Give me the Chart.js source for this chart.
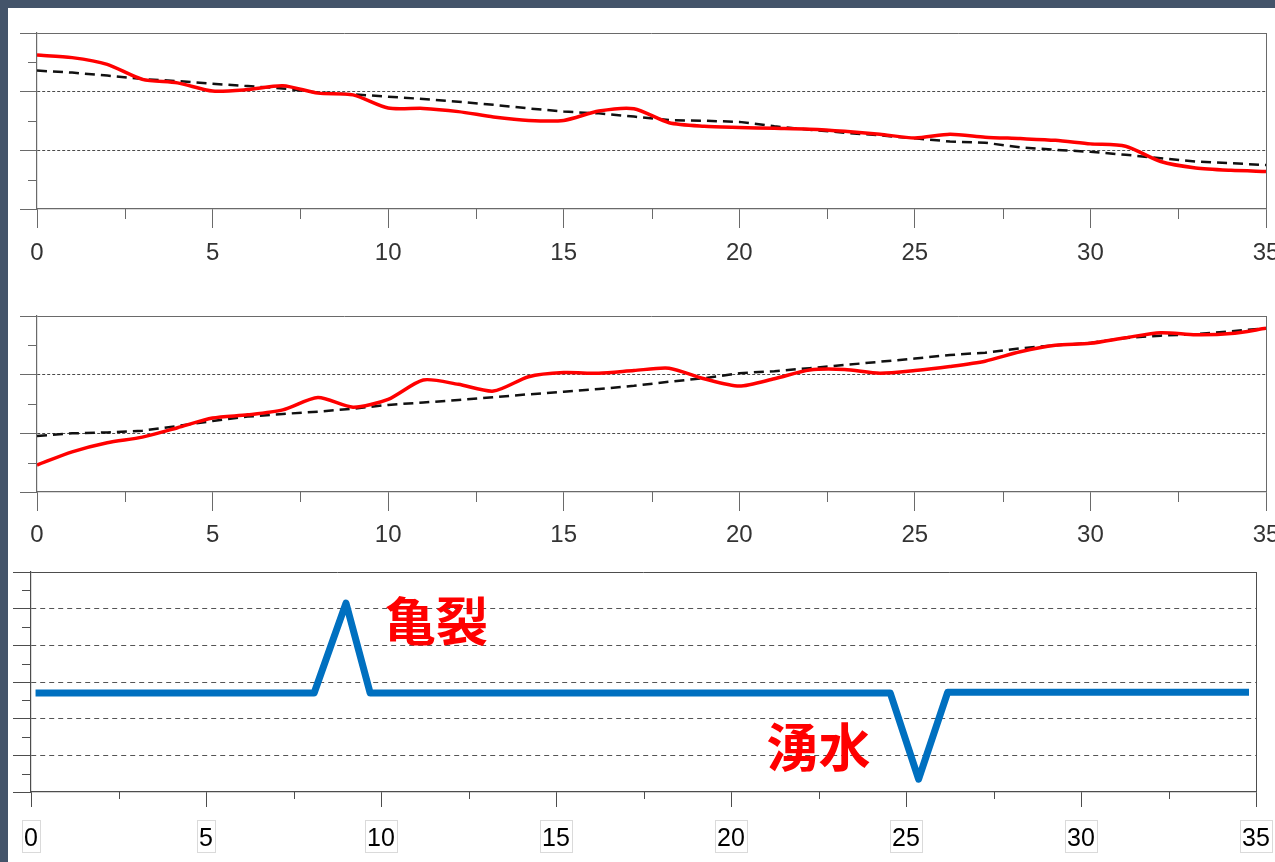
<!DOCTYPE html>
<html>
<head>
<meta charset="utf-8">
<script src="https://cdn.jsdelivr.net/npm/chart.js@4.4.1/dist/chart.umd.min.js"></script>
<style>
  html, body { margin: 0; padding: 0; background: #ffffff; overflow: hidden; width: 1275px; height: 862px; }
  canvas { position: absolute; left: 0; }
  #c1 { top: 0; }
  #c2 { top: 280px; }
  #c3 { top: 560px; }
  .frame { position: absolute; background: #44546a; z-index: 5; }
  #frameTop { left: 0; top: 0; width: 1275px; height: 8px; }
  #frameLeft { left: 0; top: 0; width: 8px; height: 862px; }
</style>
</head>
<body>
<canvas id="c1" width="1320" height="280"></canvas>
<canvas id="c2" width="1320" height="280"></canvas>
<canvas id="c3" width="1320" height="302"></canvas>
<div class="frame" id="frameTop"></div>
<div class="frame" id="frameLeft"></div>
<script>
// Chainage (m) along the section
const distance = [0,1,2,3,4,5,6,7,8,9,10,11,12,13,14,15,16,17,18,19,20,21,22,23,24,25,26,27,28,29,30,31,32,33,34,35];

// Upper profile: measured values and trend
const measuredA = [5.25,5.16,4.93,4.42,4.30,4.02,4.07,4.20,3.95,3.89,3.44,3.43,3.32,3.14,3.02,3.02,3.34,3.42,2.94,2.82,2.78,2.75,2.72,2.65,2.55,2.42,2.55,2.45,2.40,2.34,2.22,2.14,1.62,1.40,1.32,1.28];
const trendA    = [4.72,4.65,4.55,4.43,4.36,4.27,4.19,4.11,3.97,3.91,3.83,3.75,3.66,3.55,3.43,3.32,3.26,3.15,3.03,3.01,2.97,2.82,2.70,2.60,2.51,2.41,2.30,2.26,2.10,2.02,1.95,1.85,1.73,1.62,1.56,1.50];

// Middle profile: measured values and trend
const measuredB = [0.92,1.37,1.68,1.87,2.19,2.52,2.63,2.80,3.22,2.89,3.16,3.82,3.67,3.44,3.93,4.07,4.05,4.14,4.22,3.86,3.61,3.86,4.16,4.18,4.05,4.14,4.28,4.46,4.78,5.00,5.07,5.26,5.43,5.36,5.40,5.58];
const trendB    = [1.91,2.00,2.03,2.09,2.25,2.42,2.57,2.66,2.74,2.84,2.97,3.05,3.14,3.23,3.33,3.42,3.51,3.62,3.76,3.88,4.05,4.12,4.22,4.33,4.44,4.55,4.67,4.75,4.90,5.00,5.08,5.25,5.33,5.38,5.48,5.58];

// Lower log: anomaly trace
const traceX = [0.13, 8.09, 9.0, 9.69, 24.55, 25.36, 26.19, 34.8];
const traceY = [2.70, 2.70, 5.15, 2.70, 2.70, 0.35, 2.72, 2.72];

// Event notes on the lower log
const noteText = ['亀裂', '湧水'];
const noteX = [11.57, 22.5];
const noteY = [4.67, 1.23];

// Axis tick positions
const xMajor = [0, 5, 10, 15, 20, 25, 30, 35];
const xMinor = [2.5, 7.5, 12.5, 17.5, 22.5, 27.5, 32.5];
const yMinorProfile = [1, 3, 5];
const yMinorLog = [0.5, 1.5, 2.5, 3.5, 4.5, 5.5];

const pts = (xs, ys) => xs.map((x, i) => ({ x: x, y: ys[i] }));

// Short secondary tick marks on both axes
const minorTicks = {
  id: 'minorTicks',
  afterDraw(chart, args, opts) {
    const { ctx } = chart;
    const xs = chart.scales.x, ys = chart.scales.y;
    ctx.save();
    ctx.strokeStyle = opts.color;
    ctx.lineWidth = 1;
    ctx.beginPath();
    for (const v of opts.x) {
      const px = Math.round(xs.getPixelForValue(v)) + 0.5;
      ctx.moveTo(px, xs.top);
      ctx.lineTo(px, xs.top + opts.xLen);
    }
    for (const v of opts.y) {
      const py = Math.round(ys.getPixelForValue(v)) + 0.5;
      ctx.moveTo(ys.right - opts.yLen, py);
      ctx.lineTo(ys.right, py);
    }
    ctx.stroke();
    ctx.restore();
  }
};

// Thin frames round the x tick labels
const labelFrames = {
  id: 'labelFrames',
  afterDraw(chart, args, opts) {
    if (!opts.enabled) return;
    const { ctx } = chart;
    const xs = chart.scales.x;
    ctx.save();
    ctx.font = opts.font;
    ctx.strokeStyle = opts.color;
    ctx.lineWidth = 1;
    for (const t of xs.ticks) {
      const label = String(t.label);
      const w = ctx.measureText(label).width + opts.padX * 2;
      const cx = xs.getPixelForValue(t.value);
      ctx.strokeRect(Math.round(cx - w / 2) + 0.5, opts.top + 0.5, Math.round(w), opts.height);
    }
    ctx.restore();
  }
};

// Text notes placed in data coordinates
const notes = {
  id: 'notes',
  afterDatasetsDraw(chart, args, opts) {
    if (!opts.text) return;
    const { ctx } = chart;
    const xs = chart.scales.x, ys = chart.scales.y;
    ctx.save();
    ctx.font = opts.font;
    ctx.fillStyle = opts.color;
    ctx.textAlign = 'center';
    ctx.textBaseline = 'middle';
    opts.text.forEach((s, i) => {
      ctx.fillText(s, xs.getPixelForValue(opts.x[i]), ys.getPixelForValue(opts.y[i]));
    });
    ctx.restore();
  }
};

function profileChart(id, measured, trend, top, bottom, canvasH, labelPad) {
  const axisCol = '#6a6a6a';
  const gridCol = '#4a4a4a';
  return new Chart(document.getElementById(id), {
    type: 'line',
    data: {
      datasets: [
        { data: pts(distance, measured), borderColor: '#ff0000', borderWidth: 3.5, pointRadius: 0, tension: 0.25, order: 1 },
        { data: pts(distance, trend), borderColor: '#111111', borderWidth: 2.5, borderDash: [10, 6], pointRadius: 0, tension: 0, order: 2 }
      ]
    },
    options: {
      responsive: false,
      animation: false,
      events: [],
      layout: { padding: { left: 0, top: top, right: 1320 - 1266, bottom: 0 } },
      plugins: {
        legend: { display: false },
        tooltip: { enabled: false },
        minorTicks: { color: axisCol, x: xMinor, xLen: 10, y: yMinorProfile, yLen: 9 },
        labelFrames: { enabled: false }
      },
      scales: {
        x: {
          type: 'linear', min: 0, max: 35,
          afterFit: s => { s.height = canvasH - bottom; },
          afterBuildTicks: s => { s.ticks = xMajor.map(v => ({ value: v })); },
          ticks: { autoSkip: false, maxRotation: 0, padding: labelPad, color: '#333333', font: { family: "'Liberation Sans', Arial, sans-serif", size: 24 } },
          grid: {
            drawOnChartArea: true, drawTicks: true, tickLength: 19,
            color: c => (c.tick && c.tick.value === 35) ? axisCol : 'rgba(0,0,0,0)',
            tickColor: axisCol, lineWidth: 1
          },
          border: { display: true, color: axisCol, width: 1.2 }
        },
        y: {
          type: 'linear', min: 0, max: 6,
          afterFit: s => { s.width = 37; },
          ticks: { stepSize: 2, display: false },
          grid: {
            drawOnChartArea: true, drawTicks: true, tickLength: 17,
            color: c => {
              const v = c.tick ? c.tick.value : 0;
              if (v === 6) return axisCol;
              if (v === 0) return 'rgba(0,0,0,0)';
              return gridCol;
            },
            tickColor: axisCol, lineWidth: 1
          },
          border: {
            display: true, color: axisCol, width: 1.2,
            dash: c => (c.tick && c.tick.value > 0 && c.tick.value < 6) ? [3, 2] : []
          }
        }
      }
    },
    plugins: [minorTicks, labelFrames, notes]
  });
}

profileChart('c1', measuredA, trendA, 33, 209, 280, 11);
profileChart('c2', measuredB, trendB, 316 - 280, 492 - 280, 280, 10);

// Lower log panel
(function () {
  const axisCol = '#4d4d4d';
  const gridCol = '#555555';
  const labelFont = "25px 'Liberation Sans', Arial, sans-serif";
  new Chart(document.getElementById('c3'), {
    type: 'line',
    data: {
      datasets: [
        { data: pts(traceX, traceY), borderColor: '#0070c0', borderWidth: 7, pointRadius: 0, tension: 0,
          borderJoinStyle: 'round', borderCapStyle: 'butt' }
      ]
    },
    options: {
      responsive: false,
      animation: false,
      events: [],
      layout: { padding: { left: 0, top: 12, right: 1320 - 1256, bottom: 0 } },
      plugins: {
        legend: { display: false },
        tooltip: { enabled: false },
        minorTicks: { color: axisCol, x: xMinor, xLen: 7, y: yMinorLog, yLen: 9 },
        labelFrames: { enabled: true, font: labelFont, color: '#dadada', padX: 2, top: 820 - 560, height: 32 },
        notes: { text: noteText, x: noteX, y: noteY, color: '#ff0000', font: "bold 52px 'Noto Sans CJK JP', 'Noto Sans CJK SC', sans-serif" }
      },
      scales: {
        x: {
          type: 'linear', min: 0, max: 35,
          afterFit: s => { s.height = 302 - 232; },
          afterBuildTicks: s => { s.ticks = xMajor.map(v => ({ value: v })); },
          ticks: { autoSkip: false, maxRotation: 0, padding: 17, color: '#000000', font: { family: "'Liberation Sans', Arial, sans-serif", size: 25 } },
          grid: {
            drawOnChartArea: true, drawTicks: true, tickLength: 15,
            color: c => (c.tick && c.tick.value === 35) ? axisCol : 'rgba(0,0,0,0)',
            tickColor: axisCol, lineWidth: 1
          },
          border: { display: true, color: axisCol, width: 1.2 }
        },
        y: {
          type: 'linear', min: 0, max: 6,
          afterFit: s => { s.width = 31; },
          ticks: { stepSize: 1, display: false },
          grid: {
            drawOnChartArea: true, drawTicks: true, tickLength: 18,
            color: c => {
              const v = c.tick ? c.tick.value : 0;
              if (v === 6) return axisCol;
              if (v === 0) return 'rgba(0,0,0,0)';
              return gridCol;
            },
            tickColor: axisCol, lineWidth: 1
          },
          border: {
            display: true, color: axisCol, width: 1.2,
            dash: c => (c.tick && c.tick.value > 0 && c.tick.value < 6) ? [5, 4] : []
          }
        }
      }
    },
    plugins: [minorTicks, labelFrames, notes]
  });
})();
</script>
</body>
</html>
